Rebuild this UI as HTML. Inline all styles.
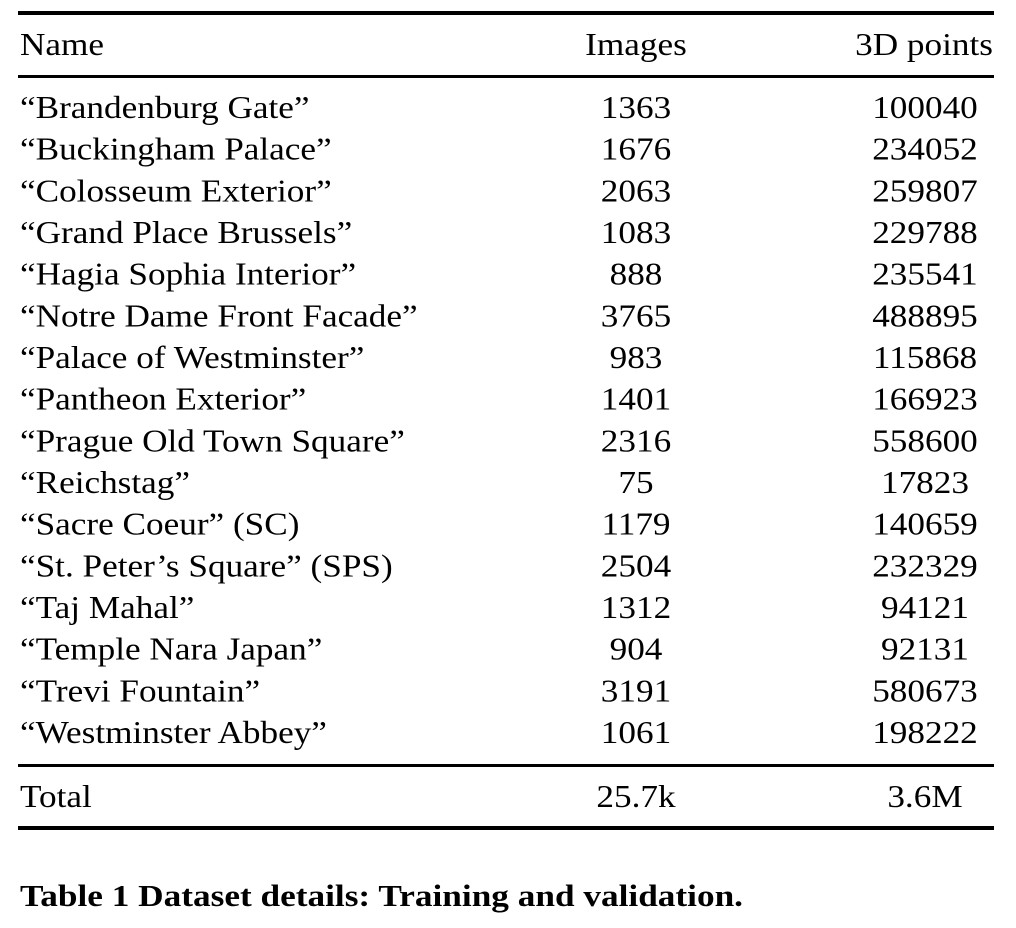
<!DOCTYPE html>
<html><head><meta charset="utf-8"><style>
html,body{margin:0;padding:0;background:#fff;}
svg{display:block;}
text{font-family:"Liberation Serif",serif;font-size:32px;fill:#000;}
</style></head><body>
<svg width="1016" height="928" viewBox="0 0 1016 928">
<rect x="18" y="11" width="976" height="4" fill="#000"/>
<rect x="18" y="75" width="976" height="3" fill="#000"/>
<rect x="18" y="764" width="976" height="3" fill="#000"/>
<rect x="18" y="826" width="976" height="4" fill="#000"/>
<g transform="scale(1.1,1)">
<text x="18.18" y="55">Name</text>
<text x="578.18" y="55" text-anchor="middle">Images</text>
<text x="902.7" y="55" text-anchor="end">3D points</text>
<text x="18.18" y="118">“Brandenburg Gate”</text><text x="578.18" y="118" text-anchor="middle">1363</text><text x="840.9" y="118" text-anchor="middle">100040</text>
<text x="18.18" y="159.7">“Buckingham Palace”</text><text x="578.18" y="159.7" text-anchor="middle">1676</text><text x="840.9" y="159.7" text-anchor="middle">234052</text>
<text x="18.18" y="201.3">“Colosseum Exterior”</text><text x="578.18" y="201.3" text-anchor="middle">2063</text><text x="840.9" y="201.3" text-anchor="middle">259807</text>
<text x="18.18" y="243">“Grand Place Brussels”</text><text x="578.18" y="243" text-anchor="middle">1083</text><text x="840.9" y="243" text-anchor="middle">229788</text>
<text x="18.18" y="284.7">“Hagia Sophia Interior”</text><text x="578.18" y="284.7" text-anchor="middle">888</text><text x="840.9" y="284.7" text-anchor="middle">235541</text>
<text x="18.18" y="326.3">“Notre Dame Front Facade”</text><text x="578.18" y="326.3" text-anchor="middle">3765</text><text x="840.9" y="326.3" text-anchor="middle">488895</text>
<text x="18.18" y="368">“Palace of Westminster”</text><text x="578.18" y="368" text-anchor="middle">983</text><text x="840.9" y="368" text-anchor="middle">115868</text>
<text x="18.18" y="409.7">“Pantheon Exterior”</text><text x="578.18" y="409.7" text-anchor="middle">1401</text><text x="840.9" y="409.7" text-anchor="middle">166923</text>
<text x="18.18" y="451.3">“Prague Old Town Square”</text><text x="578.18" y="451.3" text-anchor="middle">2316</text><text x="840.9" y="451.3" text-anchor="middle">558600</text>
<text x="18.18" y="493">“Reichstag”</text><text x="578.18" y="493" text-anchor="middle">75</text><text x="840.9" y="493" text-anchor="middle">17823</text>
<text x="18.18" y="534.7">“Sacre Coeur” (SC)</text><text x="578.18" y="534.7" text-anchor="middle">1179</text><text x="840.9" y="534.7" text-anchor="middle">140659</text>
<text x="18.18" y="576.3">“St. Peter’s Square” (SPS)</text><text x="578.18" y="576.3" text-anchor="middle">2504</text><text x="840.9" y="576.3" text-anchor="middle">232329</text>
<text x="18.18" y="618">“Taj Mahal”</text><text x="578.18" y="618" text-anchor="middle">1312</text><text x="840.9" y="618" text-anchor="middle">94121</text>
<text x="18.18" y="659.7">“Temple Nara Japan”</text><text x="578.18" y="659.7" text-anchor="middle">904</text><text x="840.9" y="659.7" text-anchor="middle">92131</text>
<text x="18.18" y="701.3">“Trevi Fountain”</text><text x="578.18" y="701.3" text-anchor="middle">3191</text><text x="840.9" y="701.3" text-anchor="middle">580673</text>
<text x="18.18" y="743">“Westminster Abbey”</text><text x="578.18" y="743" text-anchor="middle">1061</text><text x="840.9" y="743" text-anchor="middle">198222</text>
<text x="18.18" y="807">Total</text><text x="578.18" y="807" text-anchor="middle">25.7k</text><text x="840.9" y="807" text-anchor="middle">3.6M</text>
</g>
<text x="20" y="906" font-weight="bold" style="font-size:31px" textLength="723" lengthAdjust="spacingAndGlyphs">Table 1  Dataset details: Training and validation.</text>
</svg>
</body></html>
